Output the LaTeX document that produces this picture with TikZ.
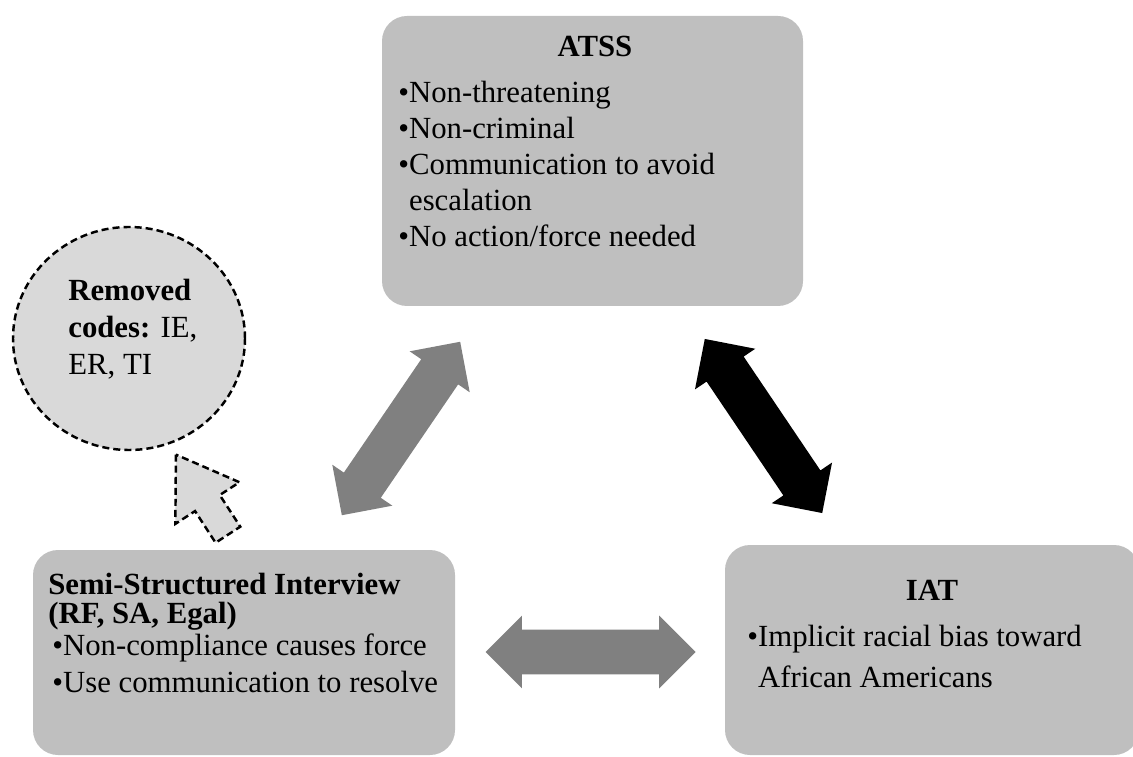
\documentclass[tikz,border=0pt]{standalone}
\usepackage{fontspec}
\setmainfont{Liberation Serif}
\usetikzlibrary{shapes.arrows,shapes.geometric}

\begin{document}
\begin{tikzpicture}
  \tikzstyle{box}=[rectangle,rounded corners=0.5cm,fill=black!25,inner sep=0pt]
  \tikzstyle{twoway}=[double arrow,double arrow head extend=0.28cm,
    minimum height=4.2cm,inner xsep=0pt,inner ysep=0.44cm]
  \tikzstyle{cut}=[draw=black,fill=black!15,line width=1.4pt,dash pattern=on 4pt off 2.3pt]
  \tikzstyle{txt}=[anchor=base west,align=left,inner sep=0pt,
    font=\fontsize{17.5}{20.6}\selectfont]
  \tikzstyle{head}=[anchor=base,inner sep=0pt,font=\bfseries\fontsize{17.5}{16.5}\selectfont]

\useasboundingbox (0,0) rectangle (22.66,15.12);
\clip (0,0) rectangle (22.66,15.12);

% the three boxes
\node [box,minimum width=8.42cm,minimum height=5.8cm] (atss) at (11.85,11.9) {};
\node [box,minimum width=8.44cm,minimum height=4.1cm] (semi) at (4.88,2.07) {};
\node [box,minimum width=8.28cm,minimum height=4.2cm] (iat) at (18.64,2.12) {};

% multi-line texts sit on the baseline of their last line
\node [head] (atsstitle) at (11.9,13.98) {ATSS};
\node [txt] (atssbody) at (7.96,10.18) {%
  •Non-threatening\\
  •Non-criminal\\
  •Communication to avoid\\
  \phantom{•}escalation\\
  •No action/force needed};

\node [head,anchor=base west,align=left] (semititle) at (0.96,2.66)
  {Semi-Structured Interview\\(RF, SA, Egal)};
\node [txt,font=\fontsize{17.5}{21}\selectfont] (semibody) at (1.04,1.28) {%
  •Non-compliance causes force\\
  •Use communication to resolve};

\node [head] (iattitle) at (18.64,3.12) {IAT};
\node [txt,font=\fontsize{17.5}{22.8}\selectfont] (iatbody) at (14.94,1.38) {%
  •Implicit racial bias toward\\
  \phantom{•}African Americans};

% removed codes
\node [cut,ellipse,minimum width=4.64cm,minimum height=4.46cm] (removed) at (2.58,8.35) {};
\node [txt,font=\fontsize{17.5}{21.3}\selectfont] (removedtext) at (1.36,7.62) {%
  \textbf{Removed}\\
  \textbf{codes:} IE,\\
  ER, TI};
\node [cut,single arrow,single arrow head extend=0.47cm,single arrow tip angle=67,
  minimum height=1.91cm,inner xsep=0pt,inner ysep=0.27cm,rotate=123] (dropped) at (4.16,5.04) {};

% links between the boxes
\node [twoway,fill=black!50,rotate=55.7] (semiatss) at (8.02,6.55) {};
\node [twoway,fill=black,rotate=-56] (atssiat) at (15.27,6.6) {};
\node [twoway,fill=black!50] (semiiat) at (11.81,2.08) {};

\end{tikzpicture}
\end{document}
